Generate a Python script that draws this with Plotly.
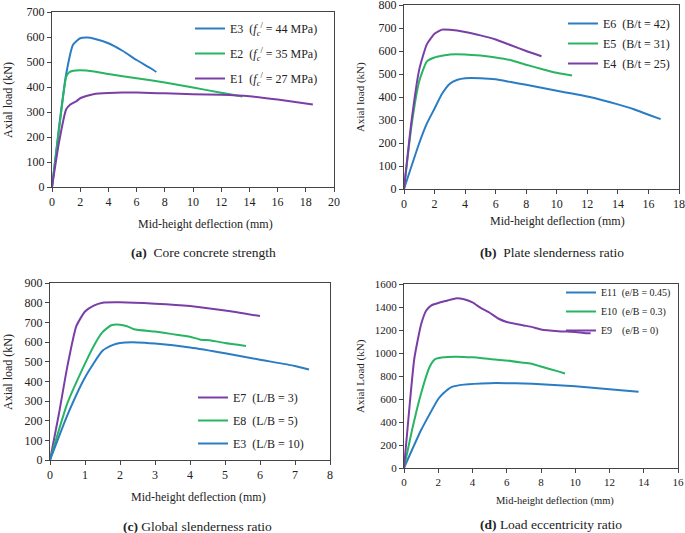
import plotly.graph_objects as go

W, H = 685, 533
BLUE = '#2a7dc4'
GREEN = '#27b562'
PURPLE = '#7a3fa6'
FONT = 'Liberation Serif'

# (a) core concrete strength
a_e3_x = [0, 0.5, 1, 1.5, 2, 2.5, 3, 4, 5, 6, 7, 7.4]
a_e3_y = [0, 240, 450, 570, 595, 598, 593, 575, 545, 508, 475, 460]
a_e2_x = [0, 0.5, 1, 1.2, 1.5, 2, 3, 4, 6, 8, 10, 12, 13.5]
a_e2_y = [0, 230, 440, 458, 465, 467, 462, 452, 435, 418, 398, 377, 362]
a_e1_x = [0, 0.5, 1, 1.3, 1.7, 2, 2.5, 3, 4, 5, 6, 7, 8, 10, 12, 14, 16, 18.5]
a_e1_y = [0, 180, 310, 330, 342, 355, 365, 372, 376, 378, 378, 376, 375, 371, 369, 363, 350, 330]

# (b) plate slenderness ratio
b_e6_x = [0, 1, 1.5, 2, 2.5, 3, 3.5, 4, 5, 6, 7, 8, 9, 10, 11, 12, 13, 14, 15, 16, 16.8]
b_e6_y = [0, 200, 285, 350, 415, 458, 475, 482, 482, 477, 465, 453, 440, 427, 415, 402, 386, 368, 348, 323, 304]
b_e5_x = [0, 0.5, 1, 1.5, 2, 3, 4, 5, 6, 7, 8, 9, 10, 11]
b_e5_y = [0, 280, 470, 555, 572, 585, 585, 580, 572, 560, 540, 522, 505, 493]
b_e4_x = [0, 0.5, 1, 1.5, 2, 2.5, 3, 4, 5, 6, 7, 8, 9]
b_e4_y = [0, 300, 520, 630, 675, 693, 692, 683, 668, 650, 625, 600, 577]

# (c) global slenderness ratio
c_e7_x = [0, 0.25, 0.5, 0.75, 1, 1.25, 1.5, 2, 3, 4, 5, 6]
c_e7_y = [0, 230, 480, 680, 755, 785, 800, 802, 795, 783, 760, 732]
c_e8_x = [0, 0.5, 1, 1.25, 1.5, 1.75, 2, 2.2, 2.4, 3, 3.5, 4, 4.3, 4.6, 5, 5.6]
c_e8_y = [0, 290, 490, 580, 650, 685, 688, 680, 665, 653, 640, 627, 612, 608, 595, 580]
c_e3_x = [0, 0.5, 1, 1.5, 1.8, 2, 2.5, 3, 4, 5, 6, 7, 7.4]
c_e3_y = [0, 230, 420, 555, 585, 595, 598, 592, 572, 543, 510, 478, 460]

# (d) load eccentricity ratio
d_e11_x = [0, 1, 2, 2.3, 2.8, 3.5, 5, 6, 7, 8, 9, 10, 11, 12, 13, 13.7]
d_e11_y = [0, 330, 600, 650, 705, 725, 738, 738, 735, 728, 720, 710, 698, 685, 672, 662]
d_e10_x = [0, 0.5, 1, 1.5, 1.8, 2.2, 3, 4, 5, 6, 7, 7.5, 8, 9, 9.4]
d_e10_y = [0, 350, 650, 880, 945, 960, 968, 962, 948, 935, 915, 905, 882, 840, 822]
d_e9_x = [0, 0.3, 0.6, 1, 1.3, 1.6, 2, 2.5, 3, 3.5, 4, 4.5, 5, 5.5, 6, 7, 7.5, 8, 9, 10, 10.5, 10.9]
d_e9_y = [0, 500, 950, 1250, 1370, 1415, 1435, 1455, 1475, 1468, 1440, 1390, 1350, 1300, 1270, 1240, 1225, 1205, 1190, 1183, 1175, 1172]


def px(x):
    return x / W


def py(y):
    return 1 - y / H


fc = '<i>f</i><sub><i>c</i></sub><sup>/</sup>'
panels = [
    # axis suffix, legend, traces, x range/dtick, y range/dtick, pixel box (x0,x1,ytop,ybottom), tick size
    ('', 'legend', [
        (a_e3_x, a_e3_y, BLUE, 'E3  (' + fc + ' = 44 MPa)'),
        (a_e2_x, a_e2_y, GREEN, 'E2  (' + fc + ' = 35 MPa)'),
        (a_e1_x, a_e1_y, PURPLE, 'E1  (' + fc + ' = 27 MPa)')],
     (0, 20, 2), (0, 700, 100), (52, 334, 12, 187), 12),
    ('2', 'legend2', [
        (b_e6_x, b_e6_y, BLUE, 'E6  (B/t = 42)'),
        (b_e5_x, b_e5_y, GREEN, 'E5  (B/t = 31)'),
        (b_e4_x, b_e4_y, PURPLE, 'E4  (B/t = 25)')],
     (0, 18, 2), (0, 800, 100), (404, 679, 5, 189), 12),
    ('3', 'legend3', [
        (c_e7_x, c_e7_y, PURPLE, 'E7  (L/B = 3)'),
        (c_e8_x, c_e8_y, GREEN, 'E8  (L/B = 5)'),
        (c_e3_x, c_e3_y, BLUE, 'E3  (L/B = 10)')],
     (0, 8, 1), (0, 900, 100), (50, 330, 283, 460), 12),
    ('4', 'legend4', [
        (d_e11_x, d_e11_y, BLUE, 'E11  (e/B = 0.45)'),
        (d_e10_x, d_e10_y, GREEN, 'E10  (e/B = 0.3)'),
        (d_e9_x, d_e9_y, PURPLE, 'E9\u00a0\u00a0\u00a0\u00a0(e/B = 0)')],
     (0, 16, 2), (0, 1600, 200), (404, 678, 284, 468), 11),
]

fig = go.Figure()
lay = {}
for suf, leg, traces, xr, yr, box, ts in panels:
    x0, x1, yt, yb = box
    for i, (xs, ys, col, name) in enumerate(traces):
        fig.add_trace(go.Scatter(
            x=xs, y=ys, mode='lines', name=name,
            line=dict(color=col, width=2, shape='spline', smoothing=0.5),
            xaxis='x' + suf, yaxis='y' + suf, legend=leg, legendgroup=leg + str(i)))
    common = dict(showgrid=False, zeroline=False, showline=True, mirror=True,
                  linecolor='#444', linewidth=1, ticks='outside', ticklen=4,
                  tickcolor='#444', automargin=False, ticklabeloverflow='allow',
                  tickfont=dict(family=FONT, size=ts, color='#222'))
    lay['xaxis' + suf] = dict(common, range=[xr[0], xr[1]], dtick=xr[2],
                              domain=[px(x0), px(x1)], anchor='y' + suf)
    lay['yaxis' + suf] = dict(common, range=[yr[0], yr[1]], dtick=yr[2],
                              domain=[py(yb), py(yt)], anchor='x' + suf)

legpos = {'legend': (190, 14, 12, 6), 'legend2': (563, 9, 12, 1),
          'legend3': (193, 383, 12, 4), 'legend4': (561, 278, 10, 0)}
for leg, (lx, ly, fs, gap) in legpos.items():
    lay[leg] = dict(x=px(lx), y=py(ly), xanchor='left', yanchor='top',
                    bgcolor='rgba(0,0,0,0)', tracegroupgap=gap,
                    font=dict(family=FONT, size=fs, color='#222'))

fig.update_layout(width=W, height=H, margin=dict(l=0, r=0, t=0, b=0),
                  plot_bgcolor='white', paper_bgcolor='white', **lay)


def txt(x, y, s, size=12, angle=0):
    fig.add_annotation(x=px(x), y=py(y), xref='paper', yref='paper', text=s,
                       showarrow=False, textangle=angle,
                       xanchor='center', yanchor='middle',
                       font=dict(family=FONT, size=size, color='#222'))


# axis titles
txt(205, 224, 'Mid-height deflection (mm)')
txt(557, 221, 'Mid-height deflection (mm)')
txt(198, 497, 'Mid-height deflection (mm)')
txt(555, 501, 'Mid-height deflection (mm)', size=10.5)
txt(8, 100, 'Axial load (kN)', angle=-90)
txt(360, 97, 'Axial load (kN)', angle=-90, size=11)
txt(8, 372, 'Axial load (kN)', angle=-90)
txt(360, 376, 'Axial Load (kN)', angle=-90, size=11)

# captions
txt(203, 252, '<b>(a)</b>  Core concrete strength', size=13.5)
txt(552, 252, '<b>(b)</b>  Plate slenderness ratio', size=13.5)
txt(197, 526, '<b>(c)</b> Global slenderness ratio', size=13.5)
txt(551, 524, '<b>(d)</b> Load eccentricity ratio', size=13.5)

# the page body has a default 8px margin; drop it so the figure fills the window
fig.write_html('out.html', config={'displayModeBar': False},
               post_script="document.body.style.margin='0';")
